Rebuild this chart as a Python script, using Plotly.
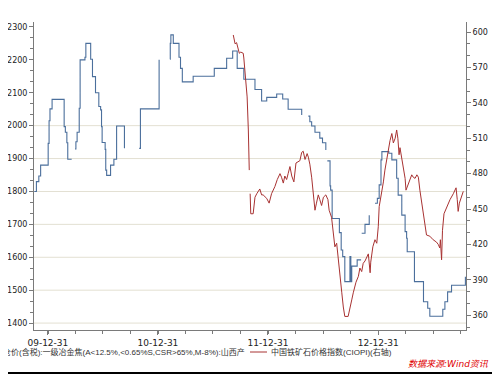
import pandas as pd
import plotly.graph_objects as go

# ---- data (days after 2009-12-31, value) ----
base_date = "2009-12-31"

coke_days = [-45, -38, -30, -24, 1, 4, 7, 14, 54, 58, 63, 66, 79, 80,
             90, 93, 97, 104, 107, 123, 126, 142, 148, 158, 169, 175, 178, 180, 190, 192, 195, 208, 219, 228, 254, 255,
             303, 307, 369, 372,
             405, 406, 408, 416, 435, 440, 446, 482, 552, 593, 613, 628, 650, 687, 709, 726, 759, 779, 797, 842, 845,
             864, 869, 875, 886, 902, 911, 922, 924,
             927, 936, 938, 943, 967, 973, 978, 985, 1002, 1005, 1008, 1026, 1039, 1040,
             1041, 1052, 1066, 1068,
             1085, 1093, 1099, 1105, 1108, 1131, 1141, 1157, 1162, 1174, 1185, 1190, 1192, 1216, 1246, 1260, 1267,
             1310, 1317, 1326, 1339, 1385]
coke_vals = [1800, 1830, 1847, 1880, 1946, 2015, 2051, 2080, 1997, 1980, 1948, 1898, 1898, None,
             1929, 1951, 1980, 2053, 2200, 2208, 2250, 2202, 2149, 2100, 2058, 2048, 1997, 1949, 1928, 1865, 1849, 1880, 1898, 1999, 1931, None,
             1931, 2051, 2200, None,
             2202, 2250, 2276, 2250, 2208, 2174, 2133, 2150, 2174, 2205, 2227, 2174, 2141, 2110, 2075, 2086, 2096, 2081, 2050, 2032, None,
             2029, 2012, 1999, 1980, 1962, 1948, 1926, None,
             1893, 1817, 1804, 1718, 1675, 1622, 1602, 1526, 1602, 1526, 1573, 1592, 1592, None,
             1673, 1700, 1728, None,
             1764, 1779, 1820, 1896, 1921, 1916, 1896, 1840, 1789, 1728, 1678, 1658, 1617, 1526, 1465, 1445, 1421,
             1442, 1465, 1495, 1515, 1541]

ore_days = [615, 621, 626, 632, 635, 640, 648, 650, 654, 657, 661, 665, 668, 670,
            671, 673, 681, 687, 693, 699, 703, 709, 714, 726, 734, 742, 753, 761, 770, 775, 781, 786, 792, 797,
            803, 809, 816, 823, 830, 836, 842, 847, 853, 860, 864, 869, 875, 880, 886, 891, 897, 902, 908, 914,
            922, 929, 933, 941, 947, 952, 958, 963, 967, 971, 975, 980, 985, 996, 1002, 1008, 1013, 1022, 1030,
            1035, 1041, 1046, 1052, 1058, 1063, 1069, 1071, 1078, 1085, 1091, 1096, 1099, 1107, 1113, 1118, 1124,
            1129, 1135, 1141, 1146, 1152, 1157, 1161, 1165, 1168, 1174, 1179, 1185, 1188, 1196, 1201, 1207, 1212,
            1218, 1224, 1229, 1234, 1240, 1245, 1251, 1256, 1267, 1278, 1289, 1295, 1300, 1302, 1306, 1309, 1314,
            1323, 1334, 1345, 1354, 1358, 1361, 1365, 1369, 1373, 1378]
ore_vals = [597.5, 590, 591, 586, 582, 583, 582, 578, 568, 559, 545, 517, 483, None,
            463, 446, 446, 460, 463, 465, 467, 462, 462, 459, 455, 463, 469, 475, 480, 477, 472, 478, 475, 480,
            486, 478, 473, 489, 490, 491, 498, 499, 492, 497, 494, 488, 477, 466, 449, 455, 462, 458, 453, 460,
            462, 458, 449, 443, 430, 418, 421, 410, 396, 387, 379, 367, 359, 359, 365, 373, 379, 388, 393,
            400, 397, 404, 406, 410, 412, 396, 405, 418, 424, 421, 435, 452, 463, 473, 483, 492,
            500, 508, 514, 506, 510, 517, 510, 496, 502, 492, 482, 476, 466, 472, 476, 479, 477,
            476, 479, 477, 466, 455, 444, 434, 428, 427, 424, 422, 420, 417, 424, 407, 432, 446,
            452, 458, 463, 468, 458, 448, 455, 458, 462, 465]

x_tick_dates = ["2009-12-31", "2010-12-31", "2011-12-31", "2012-12-31"]
x_tick_text = ["09-12-31", "10-12-31", "11-12-31", "12-12-31"]
left_ticks = [1400, 1500, 1600, 1700, 1800, 1900, 2000, 2100, 2200, 2300]
left_grid = [1400, 1500, 1600, 1700, 1800, 1900, 2000]
right_ticks = [360, 390, 420, 450, 480, 510, 540, 570, 600]

coke_name = "京唐港平仓价(含税):一级冶金焦(A<12.5%,<0.65%S,CSR>65%,M-8%):山西产"
ore_name = "中国铁矿石价格指数(CIOPI)(右轴)"
source_text = "数据来源:Wind资讯"

b = pd.Timestamp(base_date)
coke_x = [b + pd.Timedelta(days=d) for d in coke_days]
ore_x = [b + pd.Timedelta(days=d) for d in ore_days]

BLUE = "#4b6f9c"
RED = "#a83232"
AX = "#7a7a7a"
FONT = "DejaVu Sans, Noto Sans CJK SC, sans-serif"
LFONT = "Liberation Sans, Noto Sans CJK SC, sans-serif"

# page has an 8px body margin: figure is placed at (8, 8)
OFF = 8
PL, PT, PW, PH = 34 - OFF, 22 - OFF, 432, 308


def px(xabs):
    return (xabs - OFF - PL) / PW


def py(yabs):
    return (PT + PH - (yabs - OFF)) / PH


fig = go.Figure()
fig.add_trace(go.Scatter(x=coke_x, y=coke_vals, mode="lines", name=coke_name,
                         line=dict(color=BLUE, width=1.1, shape="hv"), connectgaps=False))
fig.add_trace(go.Scatter(x=ore_x, y=ore_vals, mode="lines", name=ore_name, yaxis="y2",
                         line=dict(color=RED, width=1.0), connectgaps=False))

shapes = []
for g in left_grid:
    shapes.append(dict(type="line", xref="paper", x0=0, x1=1, yref="y", y0=g, y1=g,
                       line=dict(color="#e3e0d2", width=1), layer="below"))
# legend sample + frame
shapes.append(dict(type="line", xref="paper", yref="paper", x0=px(250), x1=px(267),
                   y0=py(352), y1=py(352), line=dict(color=RED, width=1)))
shapes.append(dict(type="line", xref="paper", yref="paper", x0=-0.2, x1=px(499),
                   y0=py(373), y1=py(373), line=dict(color="#000000", width=2)))
shapes.append(dict(type="line", xref="paper", yref="paper", x0=px(499), x1=px(499),
                   y0=py(373), y1=1.2, line=dict(color="#000000", width=2)))

annotations = [
    dict(text=coke_name, xref="paper", yref="paper", x=px(247), y=py(352),
         xanchor="right", yanchor="middle", showarrow=False, font=dict(size=8, color="#333333", family=LFONT)),
    dict(text=ore_name, xref="paper", yref="paper", x=px(269), y=py(352),
         xanchor="left", yanchor="middle", showarrow=False, font=dict(size=8, color="#333333", family=LFONT)),
    dict(text="<i>" + source_text + "</i>", xref="paper", yref="paper", x=px(491), y=py(364),
         xanchor="right", yanchor="middle", showarrow=False, font=dict(size=9, color="#e00000", family=FONT)),
]

fig.update_layout(
    width=500 - OFF, height=375 - OFF,
    margin=dict(l=PL, r=500 - OFF - PL - PW, t=PT, b=375 - OFF - PT - PH, autoexpand=False),
    paper_bgcolor="white", plot_bgcolor="white",
    showlegend=False,
    font=dict(family=FONT, size=8, color="#222222"),
    xaxis=dict(type="date", range=[b + pd.Timedelta(days=-46), b + pd.Timedelta(days=1387)],
               tickvals=x_tick_dates, ticktext=x_tick_text, showgrid=False, zeroline=False,
               showline=True, linecolor=AX, linewidth=1, ticks="outside", ticklen=4, tickcolor=AX,
               tickfont=dict(size=9, color="#222222"),
               minor=dict(dtick="M3", tick0="2010-01-01", ticks="outside", ticklen=3, tickcolor=AX)),
    yaxis=dict(range=[1379, 2315], tickvals=left_ticks, showgrid=False, zeroline=False,
               showline=True, linecolor=AX, linewidth=1, ticks="outside", ticklen=4, tickcolor=AX,
               tickfont=dict(size=8, color="#222222"),
               minor=dict(tick0=1400, dtick=100/3, ticks="outside", ticklen=3, tickcolor=AX)),
    yaxis2=dict(range=[347.5, 608.5], tickvals=right_ticks, overlaying="y", side="right",
                showgrid=False, zeroline=False, showline=True, linecolor=AX, linewidth=1,
                ticks="outside", ticklen=4, tickcolor=AX, tickfont=dict(size=8, color="#222222"),
                minor=dict(tick0=360, dtick=10, ticks="outside", ticklen=3, tickcolor=AX)),
    shapes=shapes, annotations=annotations,
)

fig.write_html("out.html")
